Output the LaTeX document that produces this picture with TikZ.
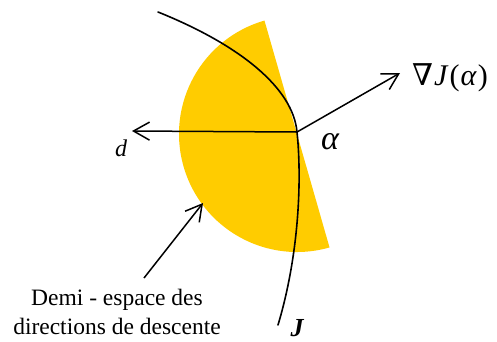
\documentclass[tikz,border=0pt]{standalone}
\usepackage{fontspec}
\setmainfont{Liberation Serif}
\newfontfamily\djv{DejaVu Serif}
\usetikzlibrary{arrows.meta}
\definecolor{halfyellow}{HTML}{FFCC00}
\tikzset{
  curveline/.style={line width=1.6pt, line cap=round},
  vecarrow/.style={line width=1.5pt, -{Straight Barb[length=16pt,width=18pt,line width=1.5pt]}},
  lbl/.style={inner sep=0pt, anchor=center}
}
\begin{document}
\begin{tikzpicture}[x=1pt,y=-1pt]
\useasboundingbox (0,0) rectangle (497,341);
% half disk
\coordinate (C) at (297,134);
\fill[halfyellow] (C) ++(254:118) arc[start angle=254,end angle=74,radius=118] -- cycle;
% point alpha
\coordinate (A) at (297,132);
\coordinate (Jtop) at (158,12);
\coordinate (Jbot) at (278,325);
% curve J
\draw[curveline] (Jtop) .. controls (240,45) and (293,88) .. (A)
  .. controls (302,180) and (299,255) .. (Jbot);
% vectors
\coordinate (dtip) at (132,131);
\coordinate (gtip) at (400,73);
\draw[vecarrow] (A) -- (dtip);
\draw[vecarrow] (A) -- (gtip);
% labels
\node[lbl] (dlab) at (121,148) {\fontsize{24}{24}\selectfont\itshape d};
\node[lbl] (alab) at (330,142) {\fontsize{34}{34}\selectfont\itshape α};
\node[lbl, anchor=west] (glab) at (412,78) {\fontsize{30}{30}\selectfont{\djv ∇}\kern1pt\textit{J}\kern1pt(\kern1pt\textit{α}\kern1pt)};
\node[lbl] (Jlab) at (297,328) {\fontsize{26}{26}\selectfont\bfseries\itshape J};
\node[lbl, align=center, font=\fontsize{23.5}{29}\selectfont] (txt) at (117,312) {Demi - espace des\\directions de descente};
\coordinate (ptail) at (144,278);
\coordinate (ptip) at (203,203);
\draw[vecarrow] (ptail) -- (ptip);
\end{tikzpicture}
\end{document}
